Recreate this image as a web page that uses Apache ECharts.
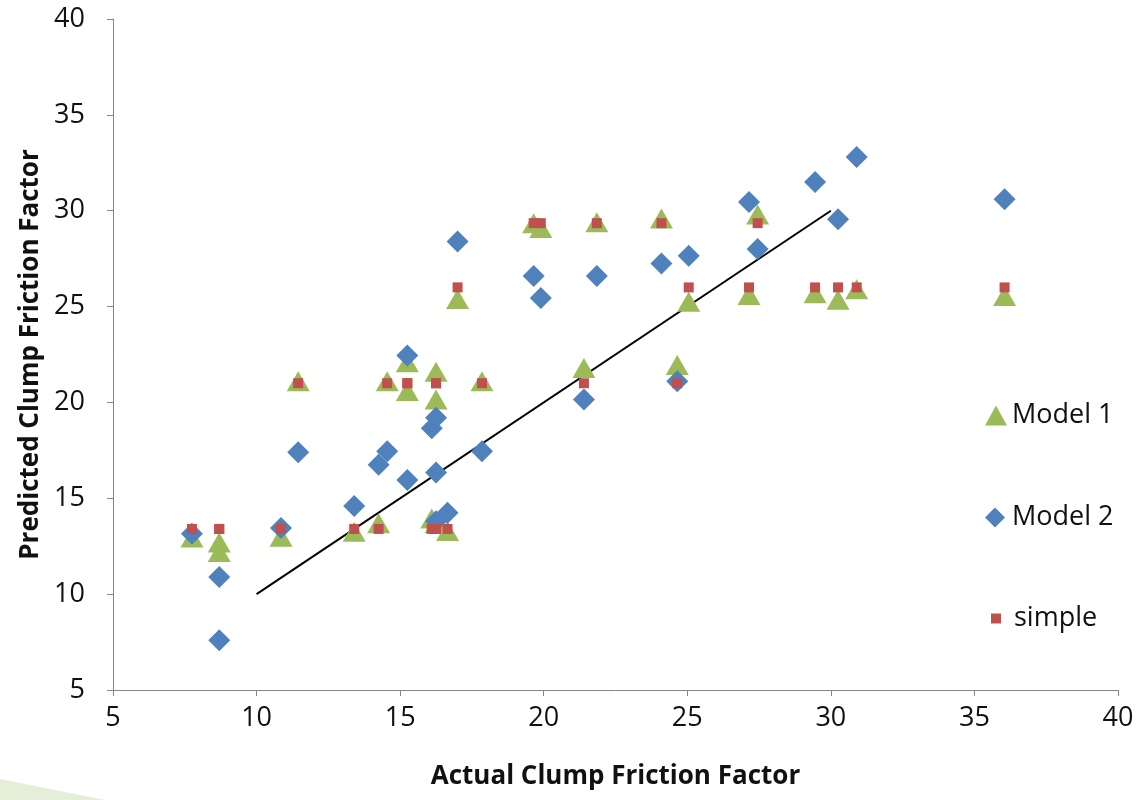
<!DOCTYPE html>
<html>
<head>
<meta charset="utf-8">
<script src="https://cdn.jsdelivr.net/npm/echarts@6/dist/echarts.min.js"></script>
<style>
  html, body { margin: 0; padding: 0; background: #ffffff; }
  #chart { width: 1144px; height: 800px; }
</style>
</head>
<body>
<div id="chart"></div>
<script>
// Actual clump friction factor (shared x values)
const actual = [7.75, 8.7, 8.7, 10.85, 11.45, 13.4, 14.25, 14.55, 15.25, 15.25,
                16.1, 16.25, 16.25, 16.25, 16.65, 17.0, 17.85, 19.65, 19.9, 21.4,
                21.85, 24.1, 24.65, 25.05, 27.15, 27.45, 29.45, 30.25, 30.9, 36.05];
// Predicted values per model
const model1 = [12.95, 12.7, 12.2, 13.0, 21.1, 13.25, 13.7, 21.1, 22.1, 20.6,
                13.95, 21.6, 20.15, 13.7, 13.3, 25.4, 21.1, 29.35, 29.1, 21.8,
                29.4, 29.6, 21.95, 25.25, 25.6, 29.8, 25.7, 25.35, 25.9, 25.55];
const model2 = [13.15, 10.9, 7.6, 13.45, 17.4, 14.6, 16.75, 17.45, 22.45, 15.95,
                18.65, 19.2, 16.35, 13.8, 14.25, 28.4, 17.45, 26.6, 25.45, 20.15,
                26.6, 27.25, 21.1, 27.65, 30.45, 28.0, 31.5, 29.55, 32.8, 30.6];
const simple = [13.4, 13.4, 13.4, 13.4, 21.0, 13.4, 13.4, 21.0, 21.0, 21.0,
                13.4, 21.0, 21.0, 13.4, 13.4, 26.0, 21.0, 29.35, 29.35, 21.0,
                29.35, 29.35, 21.0, 26.0, 26.0, 29.35, 26.0, 26.0, 26.0, 26.0];
// Reference line y = x
const fitLine = [[10, 10], [30, 30]];
const axisTicks = { min: 5, max: 40, interval: 5 };

const pairs = ys => actual.map((x, i) => [x, ys[i]]);

const FONT = '"Open Sans", "Noto Sans", sans-serif';
const GREEN = '#9BBB59', BLUE = '#4F81BD', RED = '#C0504D';

const chart = echarts.init(document.getElementById('chart'), null, { renderer: 'canvas' });

const axisCommon = {
  type: 'value',
  min: axisTicks.min,
  max: axisTicks.max,
  interval: axisTicks.interval,
  nameLocation: 'middle',
  nameTextStyle: { fontFamily: FONT, fontWeight: 'bold', fontSize: 26, color: '#111' },
  axisLine: { show: true, lineStyle: { color: '#868686', width: 1 } },
  axisTick: { show: true, length: 6, lineStyle: { color: '#868686' } },
  splitLine: { show: false },
  axisLabel: { fontFamily: FONT, fontSize: 27, color: '#111' }
};

const legendCommon = {
  orient: 'vertical',
  textStyle: { fontFamily: FONT, fontSize: 27, color: '#111' },
  selectedMode: false
};

chart.setOption({
  animation: false,
  backgroundColor: '#ffffff',
  grid: { left: 113, right: 26, top: 19, bottom: 110, containLabel: false },
  xAxis: Object.assign({}, axisCommon, {
    name: 'Actual Clump Friction Factor',
    nameGap: 74,
    axisLabel: Object.assign({}, axisCommon.axisLabel, { margin: 15 })
  }),
  yAxis: Object.assign({}, axisCommon, {
    name: 'Predicted Clump Friction Factor',
    nameGap: 68,
    axisLabel: Object.assign({}, axisCommon.axisLabel, { margin: 28 })
  }),
  legend: [
    Object.assign({}, legendCommon, {
      data: [{ name: 'Model 1', icon: 'triangle' }],
      left: 980, top: 397, itemWidth: 22, itemHeight: 20
    }),
    Object.assign({}, legendCommon, {
      data: [{ name: 'Model 2', icon: 'diamond' }],
      left: 980, top: 499, itemWidth: 20, itemHeight: 20,
      textStyle: Object.assign({}, legendCommon.textStyle, { padding: [0, 0, 0, 2] })
    }),
    Object.assign({}, legendCommon, {
      data: [{ name: 'simple', icon: 'rect' }],
      left: 986, top: 600, itemWidth: 10, itemHeight: 10,
      textStyle: Object.assign({}, legendCommon.textStyle, { padding: [0, 0, 0, 8] })
    })
  ],
  graphic: [{
    type: 'polygon',
    silent: true,
    z: -10,
    shape: { points: [[0, 779], [105, 800], [0, 800]] },
    style: { fill: '#E5EFD7' }
  }],
  series: [
    {
      name: 'y = x',
      type: 'line',
      data: fitLine,
      showSymbol: false,
      symbol: 'none',
      lineStyle: { color: '#000', width: 2 },
      z: 1
    },
    {
      name: 'Model 1',
      type: 'scatter',
      data: pairs(model1),
      symbol: 'triangle',
      symbolSize: [23, 20],
      itemStyle: { color: GREEN, opacity: 1 },
      z: 2
    },
    {
      name: 'Model 2',
      type: 'scatter',
      data: pairs(model2),
      symbol: 'diamond',
      symbolSize: 22,
      itemStyle: { color: BLUE, opacity: 1 },
      z: 3
    },
    {
      name: 'simple',
      type: 'scatter',
      data: pairs(simple),
      symbol: 'rect',
      symbolSize: 10,
      itemStyle: { color: RED, opacity: 1 },
      z: 4
    }
  ]
});
</script>
</body>
</html>
